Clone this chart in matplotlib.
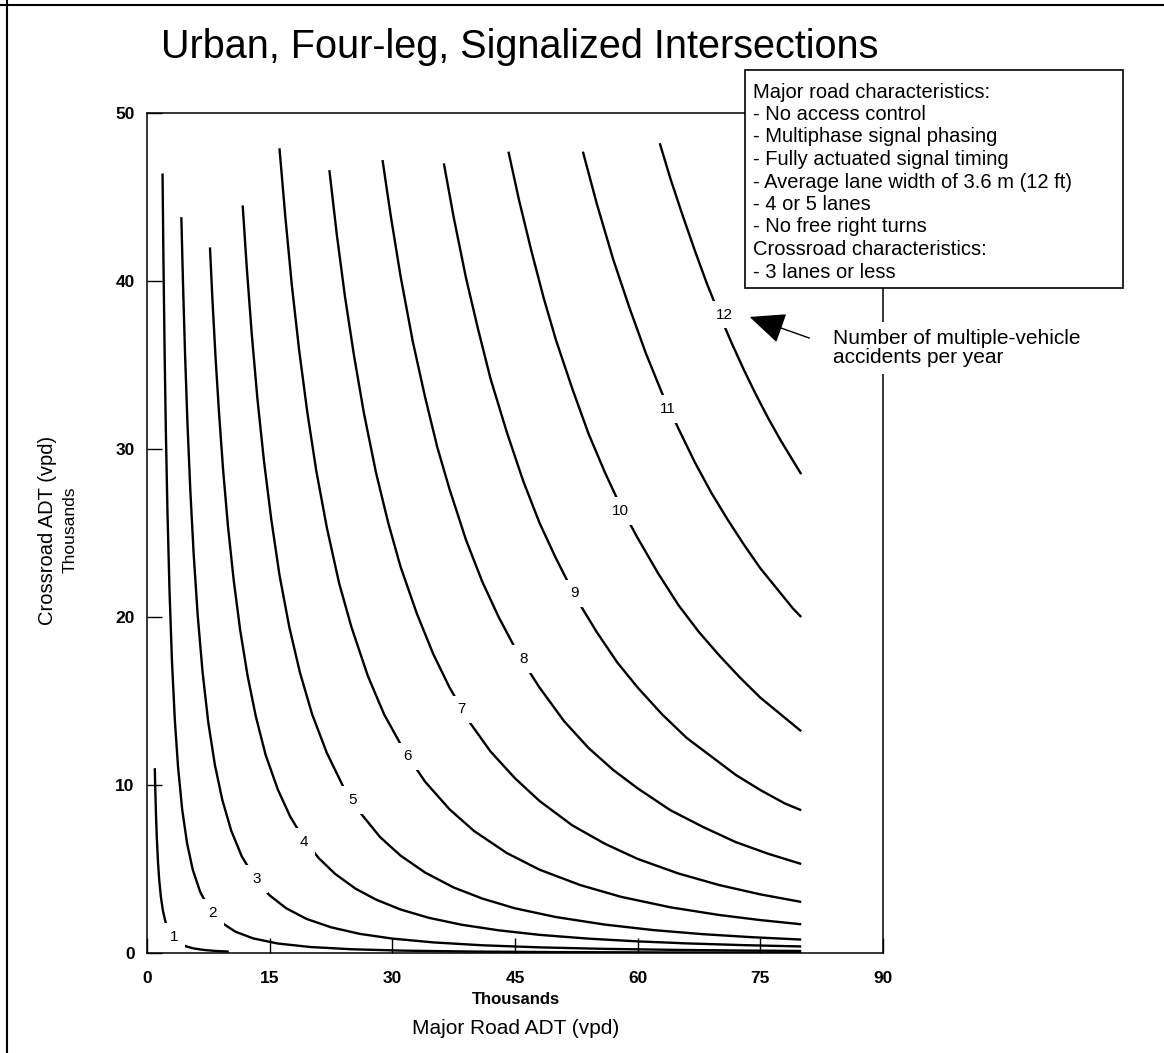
import matplotlib
matplotlib.use("Agg")
import matplotlib.pyplot as plt
from matplotlib.patches import Rectangle, FancyArrowPatch
from matplotlib.lines import Line2D

plt.rcParams['font.family'] = ['Liberation Sans', 'DejaVu Sans']

# ---------------- data (thousands of vehicles per day) ----------------
levels = [1, 2, 3, 4, 5, 6, 7, 8, 9, 10, 11, 12]

c1_x = [0.955, 1.0, 1.1, 1.2, 1.35, 1.5, 1.7, 1.95, 2.25, 2.6, 3.0, 3.5, 4.1, 4.8, 5.7, 7.0, 8.5, 10.0]
c1_y = [11.0, 10.0, 8.21, 6.86, 5.37, 4.32, 3.33, 2.51, 1.87, 1.38, 1.03, 0.748, 0.539, 0.389, 0.272, 0.178, 0.119, 0.085]

c2_x = [1.9, 2.0, 2.15, 2.3, 2.5, 2.75, 3.05, 3.4, 3.8, 4.3, 4.9, 5.6, 6.5, 7.6, 9.0, 10.8, 13.0, 16.0,
        20.0, 25.0, 31.0, 40.0, 50.0, 65.0, 80.0]
c2_y = [46.4, 41.7, 35.9, 31.2, 26.3, 21.6, 17.4, 13.9, 11.05, 8.55, 6.53, 4.95, 3.64, 2.63, 1.85, 1.27,
        0.866, 0.564, 0.355, 0.224, 0.143, 0.085, 0.053, 0.031, 0.020]

c3_x = [4.2, 4.4, 4.65, 4.95, 5.3, 5.7, 6.2, 6.8, 7.5, 8.3, 9.2, 10.3, 11.6, 13.4, 15.0, 17.0, 19.5, 22.5,
        26.0, 30.0, 35.0, 41.0, 48.0, 56.0, 65.0, 72.0, 80.0]
c3_y = [43.8, 39.9, 35.7, 31.5, 27.5, 23.8, 20.1, 16.7, 13.7, 11.2, 9.13, 7.28, 5.74, 4.30, 3.43, 2.67,
        2.03, 1.53, 1.14, 0.858, 0.631, 0.460, 0.335, 0.246, 0.183, 0.149, 0.121]

c4_x = [7.7, 8.0, 8.4, 8.8, 9.3, 9.9, 10.6, 11.4, 12.3, 13.3, 14.5, 16.0, 17.5, 19.2, 21.0, 23.0, 25.5,
        28.0, 31.0, 34.5, 38.5, 43.0, 48.0, 54.0, 60.0, 66.0, 73.0, 80.0]
c4_y = [42.0, 38.9, 35.3, 32.2, 28.8, 25.4, 22.2, 19.2, 16.5, 14.1, 11.8, 9.73, 8.13, 6.75, 5.65, 4.71,
        3.83, 3.18, 2.59, 2.09, 1.68, 1.35, 1.08, 0.854, 0.692, 0.572, 0.467, 0.389]

c5_x = [11.7, 12.2, 12.8, 13.5, 14.3, 15.2, 16.2, 17.4, 18.7, 20.2, 22.0, 24.0, 26.0, 28.5, 31.0, 34.0,
        37.5, 41.0, 45.0, 50.0, 56.0, 62.0, 68.0, 74.0, 80.0]
c5_y = [44.5, 40.8, 36.9, 33.0, 29.3, 25.8, 22.5, 19.4, 16.7, 14.2, 11.9, 9.9, 8.4, 6.9, 5.8, 4.79,
        3.90, 3.24, 2.66, 2.14, 1.69, 1.36, 1.12, 0.94, 0.80]

c6_x = [16.2, 16.9, 17.7, 18.6, 19.6, 20.7, 22.0, 23.5, 25.0, 27.0, 29.0, 31.5, 34.0, 37.0, 40.0, 44.0,
        48.0, 53.0, 58.0, 64.0, 70.0, 75.0, 80.0]
c6_y = [47.9, 43.9, 39.8, 35.9, 32.2, 28.7, 25.3, 22.0, 19.4, 16.5, 14.2, 12.0, 10.2, 8.55, 7.26, 5.95,
        4.96, 4.04, 3.34, 2.72, 2.26, 1.96, 1.71]

c7_x = [22.3, 23.2, 24.2, 25.3, 26.5, 28.0, 29.5, 31.0, 33.0, 35.0, 37.0, 39.5, 42.0, 45.0, 48.0, 52.0,
        56.0, 60.0, 65.0, 70.0, 75.0, 80.0]
c7_y = [46.6, 42.8, 39.1, 35.6, 32.2, 28.6, 25.6, 23.0, 20.2, 17.8, 15.8, 13.7, 12.0, 10.4, 9.05, 7.6,
        6.5, 5.6, 4.73, 4.04, 3.49, 3.04]

c8_x = [28.8, 29.8, 31.0, 32.5, 34.0, 35.5, 37.0, 39.0, 41.0, 43.0, 45.5, 48.0, 51.0, 54.0, 57.0, 60.0,
        64.0, 68.0, 72.0, 76.0, 80.0]
c8_y = [47.2, 43.9, 40.3, 36.4, 33.1, 30.1, 27.6, 24.6, 22.1, 20.0, 17.7, 15.8, 13.8, 12.2, 10.9, 9.8,
        8.5, 7.5, 6.6, 5.9, 5.3]

c9_x = [36.3, 37.5, 39.0, 40.5, 42.0, 44.0, 46.0, 48.0, 50.0, 52.5, 55.0, 57.5, 60.0, 63.0, 66.0, 69.0,
        72.0, 75.0, 78.0, 80.0]
c9_y = [47.0, 43.8, 40.2, 37.1, 34.2, 31.0, 28.1, 25.6, 23.5, 21.1, 19.1, 17.3, 15.8, 14.2, 12.8, 11.7,
        10.6, 9.7, 8.9, 8.5]

c10_x = [44.2, 45.5, 47.0, 48.5, 50.0, 52.0, 54.0, 56.0, 58.0, 60.0, 62.5, 65.0, 67.5, 70.0, 72.5, 75.0,
         77.5, 80.0]
c10_y = [47.7, 44.8, 41.8, 39.0, 36.5, 33.6, 30.9, 28.6, 26.5, 24.7, 22.6, 20.7, 19.1, 17.7, 16.4, 15.2,
         14.2, 13.2]

c11_x = [53.3, 55.0, 57.0, 59.0, 61.0, 63.0, 65.0, 67.0, 69.0, 71.0, 73.0, 75.0, 77.0, 79.0, 80.0]
c11_y = [47.7, 44.6, 41.3, 38.4, 35.7, 33.3, 31.2, 29.2, 27.4, 25.8, 24.3, 22.9, 21.7, 20.5, 20.0]

c12_x = [62.7, 64.0, 65.5, 67.0, 68.5, 70.0, 71.5, 73.0, 74.5, 76.0, 77.5, 79.0, 80.0]
c12_y = [48.2, 46.1, 43.9, 41.8, 39.8, 38.0, 36.3, 34.7, 33.2, 31.8, 30.5, 29.3, 28.5]

label_x = [3.3, 8.0, 13.4, 19.2, 25.1, 31.9, 38.5, 46.0, 52.3, 57.9, 63.7, 70.6]
label_y = [0.95, 2.36, 4.4, 6.6, 9.1, 11.7, 14.5, 17.5, 21.4, 26.3, 32.4, 38.0]

x_ticks = [0, 15, 30, 45, 60, 75, 90]
y_ticks = [0, 10, 20, 30, 40, 50]

box_lines = [
    "Major road characteristics:",
    "- No access control",
    "- Multiphase signal phasing",
    "- Fully actuated signal timing",
    "- Average lane width of 3.6 m (12 ft)",
    "- 4 or 5 lanes",
    "- No free right turns",
    "Crossroad characteristics:",
    "- 3 lanes or less",
]

curves_x = [c1_x, c2_x, c3_x, c4_x, c5_x, c6_x, c7_x, c8_x, c9_x, c10_x, c11_x, c12_x]
curves_y = [c1_y, c2_y, c3_y, c4_y, c5_y, c6_y, c7_y, c8_y, c9_y, c10_y, c11_y, c12_y]

# ---------------- figure ----------------
W, H = 1164, 1053
fig = plt.figure(figsize=(W / 100, H / 100), dpi=100)
fig.patch.set_facecolor('white')

def fx(px):
    return px / W

def fy(py):
    return 1 - py / H

ax = fig.add_axes([fx(147), fy(953), fx(883) - fx(147), fy(113) - fy(953)])
ax.set_xlim(0, 90)
ax.set_ylim(0, 50)

for xs, ys in zip(curves_x, curves_y):
    ax.plot(xs, ys, color='black', lw=1.7, solid_capstyle='butt', solid_joinstyle='round', zorder=2)

for lv, lx, ly in zip(levels, label_x, label_y):
    ax.text(lx, ly, str(lv), ha='center', va='center', fontsize=11, zorder=4,
            bbox=dict(boxstyle='square,pad=0.45', facecolor='white', edgecolor='none'))

for s in ax.spines.values():
    s.set_linewidth(1.1)
    s.set_color('black')
    s.set_zorder(5)

ax.set_xticks(x_ticks)
ax.set_yticks(y_ticks)
ax.set_xticklabels([str(v) for v in x_ticks], fontsize=12.5, fontweight='bold')
ax.set_yticklabels([str(v) for v in y_ticks], fontsize=12.5, fontweight='bold')
ax.tick_params(axis='x', direction='in', length=11, width=1.0, pad=13)
ax.tick_params(axis='y', direction='in', length=11, width=1.0, pad=9)

# axis titles
fig.text(fx(516), fy(1000), "Thousands", ha='center', va='center', fontsize=12, fontweight='bold')
fig.text(fx(516), fy(1029), "Major Road ADT (vpd)", ha='center', va='center', fontsize=15)
fig.text(fx(48), fy(530), "Crossroad ADT (vpd)", ha='center', va='center', fontsize=14.5, rotation=90)
fig.text(fx(70), fy(530), "Thousands", ha='center', va='center', fontsize=12.5, rotation=90)

# title
fig.text(fx(520), fy(47), "Urban, Four-leg, Signalized Intersections", ha='center', va='center',
         fontsize=28.5)

# characteristics box
fig.add_artist(Rectangle((fx(745), fy(288)), fx(1123) - fx(745), fy(70) - fy(288),
                         transform=fig.transFigure, facecolor='white', edgecolor='black',
                         lw=1.2, zorder=5))
line_y = [92, 114.5, 137, 159.5, 182, 204.5, 227, 249.5, 272]
for txt, py in zip(box_lines, line_y):
    fig.text(fx(753), fy(py), txt, ha='left', va='center', fontsize=14.5, zorder=6)

# annotation
fig.text(fx(833), fy(348), "Number of multiple-vehicle\naccidents per year", ha='left', va='center',
         fontsize=15, linespacing=1.05, zorder=6,
         bbox=dict(boxstyle='square,pad=0.3', facecolor='white', edgecolor='none'))
fig.add_artist(FancyArrowPatch((fx(812), fy(339)), (fx(747), fy(316)), transform=fig.transFigure,
                               arrowstyle='-|>,head_length=1.6,head_width=0.7', mutation_scale=14,
                               color='black', lw=1.0, zorder=6))

# outer frame lines of the scanned page
fig.add_artist(Line2D([fx(7), fx(7)], [0, 1], transform=fig.transFigure, color='black', lw=1.5))
fig.add_artist(Line2D([0, 1], [fy(5), fy(5)], transform=fig.transFigure, color='black', lw=1.5))

fig.savefig("out.png", dpi=100, facecolor='white')
